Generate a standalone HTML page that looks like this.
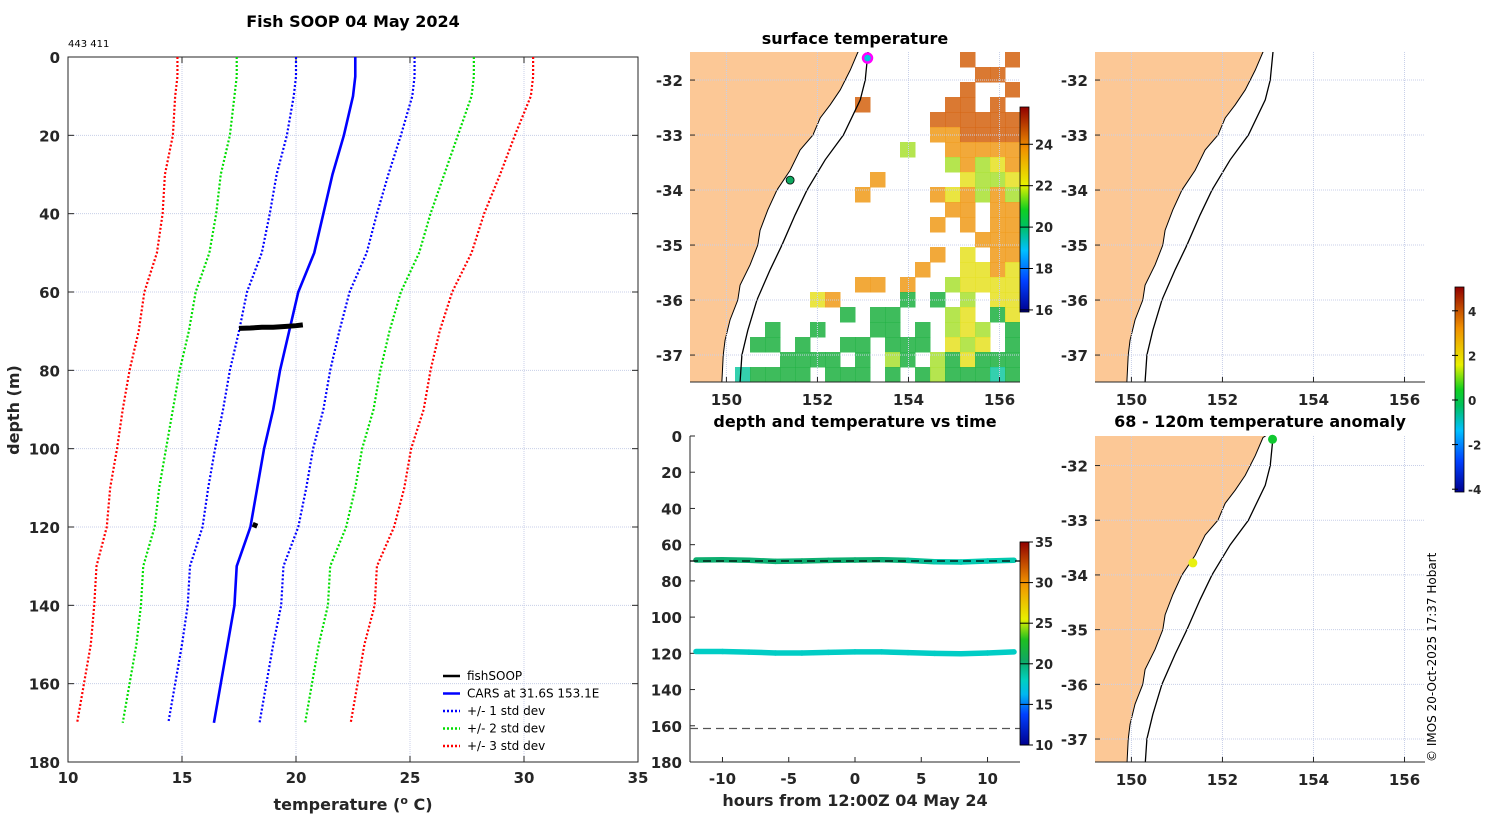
<!DOCTYPE html>
<html><head><meta charset="utf-8"><style>
html,body{margin:0;padding:0;background:#fff;}
svg{display:block;font-family:"DejaVu Sans","Liberation Sans",sans-serif;}
.tk{font-size:15px;font-weight:bold;fill:#262626;}
.ttl{font-size:16px;font-weight:bold;fill:#000;}
</style></head><body>
<svg id="fig" width="1500" height="820" viewBox="0 0 1500 820" xmlns="http://www.w3.org/2000/svg">
<defs>
<linearGradient id="jet" x1="0" y1="1" x2="0" y2="0">
<stop offset="0" stop-color="#00008f"/><stop offset="0.15" stop-color="#0040ff"/><stop offset="0.25" stop-color="#00b8f0"/><stop offset="0.32" stop-color="#00d0c0"/><stop offset="0.42" stop-color="#10a860"/><stop offset="0.52" stop-color="#20c020"/><stop offset="0.62" stop-color="#e8f000"/><stop offset="0.8" stop-color="#f09000"/><stop offset="1" stop-color="#900000"/>
</linearGradient>
<linearGradient id="jet2" x1="0" y1="1" x2="0" y2="0">
<stop offset="0" stop-color="#00008f"/><stop offset="0.15" stop-color="#0040ff"/><stop offset="0.3" stop-color="#00c0ff"/><stop offset="0.42" stop-color="#00c060"/><stop offset="0.5" stop-color="#10d020"/><stop offset="0.62" stop-color="#e8f000"/><stop offset="0.8" stop-color="#f09000"/><stop offset="1" stop-color="#900000"/>
</linearGradient>
<clipPath id="c1"><rect x="690" y="52" width="330" height="330"/></clipPath>
<clipPath id="c2"><rect x="1095" y="52" width="330" height="330"/></clipPath>
<clipPath id="c3"><rect x="1095" y="436" width="330" height="326"/></clipPath>
</defs>
<text class="ttl" x="353" y="27" text-anchor="middle">Fish SOOP 04 May 2024</text>
<text x="68" y="47" font-size="10" fill="#000">443 411</text>
<g id="left"></g>
<g id="sst"></g>
<g id="ts"></g>
<g id="m2"></g>
<g id="m3"></g>
<text x="1436" y="762" font-size="12" fill="#000" transform="rotate(-90 1436 762)">© IMOS 20-Oct-2025 17:37 Hobart</text>
</svg>
<script>
// ---------- profile data ----------
const depths=[0,5,10,20,30,40,50,60,70,80,90,100,110,120,130,140,150,160,170];
const carsMean=[22.6,22.6,22.5,22.1,21.6,21.2,20.8,20.1,19.7,19.3,19.0,18.6,18.3,18.0,17.4,17.3,17.0,16.7,16.4];
const carsSd=[2.6,2.6,2.6,2.5,2.45,2.35,2.3,2.25,2.2,2.2,2.2,2.15,2.15,2.1,2.05,2.05,2.0,2.0,2.0];
const fishTemp=[17.5,18.0,18.5,19.0,19.5,20.0,20.3,18.1,18.3];
const fishDepth=[69.3,69.2,69.0,69.0,68.8,68.6,68.4,119.3,119.8];
// time series
const tsHours=[-12,-10,-8,-6,-4,-2,0,2,4,6,8,10,12];
const tsDepthUpper=[68.5,68.3,68.6,69.2,69.0,68.7,68.5,68.3,68.7,69.4,69.6,69.0,68.6];
const tsTempUpper=[20.2,20.0,20.1,19.9,20.0,20.1,20.0,20.1,19.6,18.7,18.4,18.4,18.5];
const tsDepthLower=[119.0,119.0,119.3,119.8,119.8,119.5,119.2,119.2,119.6,120.0,120.2,119.8,119.2];
const tsTempLower=[17.8,17.8,17.8,17.8,17.8,17.8,17.8,17.8,17.8,17.8,17.8,17.8,17.8];
// maps
const coastLon=[153.05,152.89,152.72,152.50,152.28,152.06,151.90,151.62,151.40,151.11,150.91,150.74,150.69,150.52,150.30,150.25,150.08,149.97,149.93,149.90,149.88];
const coastLat=[-31.40,-31.49,-31.82,-32.18,-32.45,-32.69,-33.0,-33.27,-33.64,-34.0,-34.36,-34.73,-35.0,-35.36,-35.73,-36.0,-36.36,-36.73,-37.0,-37.49,-37.60];
const isoLon=[153.15,153.11,153.05,152.94,152.57,152.17,151.77,151.51,151.22,150.96,150.67,150.47,150.34,150.30,150.30];
const isoLat=[-31.40,-31.49,-32.0,-32.36,-33.0,-33.45,-34.0,-34.45,-35.0,-35.45,-36.0,-36.55,-37.0,-37.49,-37.60];
const sstGrid=[
"..................r..r",
"...................rr.",
"..................r..r",
"...........r.....rr.r.",
"................rrrrrr",
"................oorrrr",
"..............l..ooooo",
".................lolyo",
"............o.....ylly",
"...........o....oyolol",
".................oo.oo",
"................o.o.oo",
"...................ooo",
"................o.y.oo",
"...............o..yyoy",
"...........oo.o..lyyyy",
"........yo....g.g.l.yy",
"..........g.gg...ly.gy",
".....g..g...gg.g.lyl.g",
"....gg.g..gg.ggg.yly.g",
"......gggg.g.lg.lgyggg",
"...tgggg.ggg.g.glgggtg"];
const sstColors={r:"#d4620e",o:"#f09a18",y:"#e6e020",l:"#a8e030",g:"#1cb040",t:"#10c8a0"};
const sstTicks=[16,18,20,22,24];
const tsTicksX=[-10,-5,0,5,10];
const depthTicks=[0,20,40,60,80,100,120,140,160,180];
const tempTicks=[10,15,20,25,30,35];
const lonTicks=[150,152,154,156];
const latTicks=[-32,-33,-34,-35,-36,-37];
const tsCbTicks=[10,15,20,25,30,35];
const anomTicks=[-4,-2,0,2,4];
const anomLon=[153.1,151.35];
const anomLat=[-31.52,-33.78];
const anomColor=["#10c830","#e8f010"];
const sstMarkLon=[153.1,151.4];
const sstMarkLat=[-31.6,-33.82];

const NS="http://www.w3.org/2000/svg";
function el(tag,attrs,parent,txt){const e=document.createElementNS(NS,tag);for(const k in attrs)e.setAttribute(k,attrs[k]);if(txt!==undefined)e.textContent=txt;parent.appendChild(e);return e;}
const cmapStops=[[0,[0,0,143]],[0.15,[0,64,255]],[0.25,[0,184,240]],[0.32,[0,208,192]],[0.42,[16,168,96]],[0.52,[32,192,32]],[0.62,[232,240,0]],[0.8,[240,144,0]],[1,[144,0,0]]];
function cmap(t){t=Math.max(0,Math.min(1,t));for(let i=1;i<cmapStops.length;i++){const a=cmapStops[i-1],b=cmapStops[i];if(t<=b[0]){const f=(t-a[0])/(b[0]-a[0]);const c=a[1].map((v,k)=>Math.round(v+(b[1][k]-v)*f));return `rgb(${c[0]},${c[1]},${c[2]})`;}}return 'rgb(144,0,0)';}

// ---------- left profile ----------
(function(){
const g=document.getElementById('left');
const X0=68,X1=638,Y0=57,Y1=762;
const xs=t=>X0+(t-10)/25*(X1-X0), ys=d=>Y0+d/180*(Y1-Y0);
for(const t of tempTicks){const l=el('line',{x1:xs(t),x2:xs(t),y1:Y0,y2:Y1,stroke:'#c8cfe8','stroke-width':1,'stroke-dasharray':'1,1'},g);
 const tx=el('text',{x:xs(t),y:Y1+21,class:'tk','text-anchor':'middle'},g,t);
 el('line',{x1:xs(t),x2:xs(t),y1:Y0,y2:Y0+6,stroke:'#262626'},g);el('line',{x1:xs(t),x2:xs(t),y1:Y1,y2:Y1-6,stroke:'#262626'},g);}
for(const d of depthTicks){const l=el('line',{x1:X0,x2:X1,y1:ys(d),y2:ys(d),stroke:'#c8cfe8','stroke-width':1,'stroke-dasharray':'1,1'},g);
 const tx=el('text',{x:X0-8,y:ys(d)+6,class:'tk','text-anchor':'end'},g,d);
 el('line',{x1:X0,x2:X0+6,y1:ys(d),y2:ys(d),stroke:'#262626'},g);el('line',{x1:X1,x2:X1-6,y1:ys(d),y2:ys(d),stroke:'#262626'},g);}
const box=el('rect',{x:X0,y:Y0,width:X1-X0,height:Y1-Y0,fill:'none',stroke:'#262626','stroke-width':1},g);
const specs=[[-3,'#f00','sd3-left'],[-2,'#0d0','sd2-left'],[-1,'#00f','sd1-left'],[1,'#00f','sd1-right'],[2,'#0d0','sd2-right'],[3,'#f00','sd3-right']];
for(const [k,c,n] of specs){const p=el('polyline',{points:depths.map((d,i)=>xs(carsMean[i]+k*carsSd[i])+','+ys(d)).join(' '),fill:'none',stroke:c,'stroke-width':2.2,'stroke-dasharray':'2,2'},g);}
const m=el('polyline',{points:depths.map((d,i)=>xs(carsMean[i])+','+ys(d)).join(' '),fill:'none',stroke:'#00f','stroke-width':2.6},g);
const f1=el('polyline',{points:fishTemp.slice(0,7).map((t,i)=>xs(t)+','+ys(fishDepth[i])).join(' '),fill:'none',stroke:'#000','stroke-width':5},g);
const f2=el('polyline',{points:fishTemp.slice(7).map((t,i)=>xs(t)+','+ys(fishDepth[i+7])).join(' '),fill:'none',stroke:'#000','stroke-width':5},g);
const xt=el('text',{x:353,y:810,'font-size':16,'font-weight':'bold',fill:'#262626','text-anchor':'middle'},g);
xt.innerHTML='temperature (<tspan font-size="11" dy="-6">o</tspan><tspan dy="6"> C)</tspan>';
const yt=el('text',{x:19,y:410,'font-size':16,'font-weight':'bold',fill:'#262626','text-anchor':'middle',transform:'rotate(-90 19 410)'},g,'depth (m)');
const leg=[['fishSOOP','#000',''],['CARS at 31.6S 153.1E','#00f',''],['+/- 1 std dev','#00f','2,2'],['+/- 2 std dev','#0d0','2,2'],['+/- 3 std dev','#f00','2,2']];
leg.forEach((L,i)=>{const y=676+i*17.5;const ln=el('line',{x1:443,x2:460,y1:y,y2:y,stroke:L[1],'stroke-width':2.4,'stroke-dasharray':L[2]||'none'},g);
 const t=el('text',{x:467,y:y+4,'font-size':12,fill:'#000'},g,L[0]);});
})();

// ---------- map helper ----------
function drawMap(gid,clip,X0,Y0,W,H,latTop,latBot,name){
 const g=document.getElementById(gid);
 const lon0=149.2,lon1=156.45;
 const px=lo=>X0+(lo-lon0)/(lon1-lon0)*W, py=la=>Y0+(latTop-la)/(latTop-latBot)*H;
 const cg=el('g',{'clip-path':'url(#'+clip+')'},g);
 return {g,cg,px,py,finish:function(){
  let pts=coastLon.map((lo,i)=>px(lo)+','+py(coastLat[i])).join(' ');
  pts+=' '+px(149.0)+','+py(-37.7)+' '+px(149.0)+','+py(-31.3);
  const land=el('polygon',{points:pts,fill:'#fcc896',stroke:'#000','stroke-width':1},cg);
  const iso=el('polyline',{points:isoLon.map((lo,i)=>px(lo)+','+py(isoLat[i])).join(' '),fill:'none',stroke:'#000','stroke-width':1.3},cg);
  for(const lo of lonTicks){const l=el('line',{x1:px(lo),x2:px(lo),y1:Y0,y2:Y0+H,stroke:'#c8cfe8','stroke-dasharray':'1,1'},cg);
   el('line',{x1:px(lo),x2:px(lo),y1:Y0+H,y2:Y0+H-5,stroke:'#262626'},g);
   const t=el('text',{x:px(lo),y:Y0+H+23,class:'tk','text-anchor':'middle'},g,lo);}
  for(const la of latTicks){const y=py(la);if(y<Y0||y>Y0+H)continue;const l=el('line',{x1:X0,x2:X0+W,y1:y,y2:y,stroke:'#c8cfe8','stroke-dasharray':'1,1'},cg);
   el('line',{x1:X0,x2:X0+5,y1:y,y2:y,stroke:'#262626'},g);
   const t=el('text',{x:X0-7,y:y+6,class:'tk','text-anchor':'end'},g,la);}
  el('line',{x1:X0,x2:X0+W,y1:Y0+H,y2:Y0+H,stroke:'#262626'},g);
 }};
}

// SST map
(function(){
 const m=drawMap('sst','c1',690,52,330,330,-31.49,-37.49,'sst-map');
 const cw=330/22,ch=330/22;
 sstGrid.forEach((row,r)=>{[...row].forEach((c,k)=>{if(c==='.')return;const rc=el('rect',{x:690+k*cw,y:52+r*ch,width:cw+0.5,height:ch+0.5,fill:sstColors[c],'fill-opacity':0.85},m.cg);});});
 m.finish();
 const mk1=el('circle',{cx:m.px(sstMarkLon[0]),cy:m.py(sstMarkLat[0]),r:4.5,fill:'#00c8e0',stroke:'#ff00ff','stroke-width':2.5},m.g);
 const mk2=el('circle',{cx:m.px(sstMarkLon[1]),cy:m.py(sstMarkLat[1]),r:4,fill:'#10a860',stroke:'#000','stroke-width':0.8},m.g);
 const t=el('text',{x:855,y:44,class:'ttl','text-anchor':'middle'},m.g,'surface temperature');
 const cb=el('rect',{x:1020,y:107,width:9,height:205,fill:'url(#jet2)',stroke:'#000','stroke-width':0.8},m.g);
 const cy=v=>312-(v-15.9)/(25.8-15.9)*205;
 for(const v of sstTicks){el('line',{x1:1020,x2:1033,y1:cy(v),y2:cy(v),stroke:'#000'},m.g);const tx=el('text',{x:1035,y:cy(v)+5,'font-size':13,'font-weight':'bold',fill:'#262626'},m.g,v);}
})();

// right top map
(function(){const m=drawMap('m2','c2',1095,52,330,330,-31.49,-37.49,'overview-map');m.finish();})();
// anomaly map
(function(){
 const m=drawMap('m3','c3',1095,436,330,326,-31.46,-37.42,'anomaly-map');m.finish();
 anomLon.forEach((lo,i)=>{const c=el('circle',{cx:m.px(lo),cy:m.py(anomLat[i]),r:4.5,fill:anomColor[i]},m.g);});
 const t=el('text',{x:1260,y:427,class:'ttl','text-anchor':'middle'},m.g,'68 - 120m temperature anomaly');
 const cb=el('rect',{x:1455,y:287,width:9,height:205,fill:'url(#jet2)',stroke:'#000','stroke-width':0.8},m.g);
 const cy=v=>400-v*22.3;
 for(const v of anomTicks){el('line',{x1:1452,x2:1458,y1:cy(v),y2:cy(v),stroke:'#000'},m.g);const tx=el('text',{x:1468,y:cy(v)+5,'font-size':12,'font-weight':'bold',fill:'#262626'},m.g,v);}
})();

// time series
(function(){
 const g=document.getElementById('ts');
 const X0=690,X1=1020,Y0=436,Y1=762;
 const xs=h=>X0+(h+12.45)/24.9*(X1-X0), ys=d=>Y0+d/180*(Y1-Y0);
 const t=el('text',{x:855,y:427,class:'ttl','text-anchor':'middle'},g,'depth and temperature vs time');
 el('line',{x1:X0,x2:X0,y1:Y0,y2:Y1,stroke:'#262626'},g);el('line',{x1:X0,x2:X1,y1:Y1,y2:Y1,stroke:'#262626'},g);
 for(const d of depthTicks){el('line',{x1:X0,x2:X0+5,y1:ys(d),y2:ys(d),stroke:'#262626'},g);const tx=el('text',{x:X0-8,y:ys(d)+6,class:'tk','text-anchor':'end'},g,d);}
 for(const h of tsTicksX){el('line',{x1:xs(h),x2:xs(h),y1:Y1,y2:Y1-5,stroke:'#262626'},g);const tx=el('text',{x:xs(h),y:Y1+22,class:'tk','text-anchor':'middle'},g,h);}
 const xt=el('text',{x:855,y:806,'font-size':16,'font-weight':'bold',fill:'#262626','text-anchor':'middle'},g,'hours from 12:00Z 04 May 24');
 const col=v=>cmap((v-10)/25);
 function band(dep,tem,n){for(let i=0;i<tsHours.length-1;i++){const s=el('line',{x1:xs(tsHours[i]),y1:ys(dep[i]),x2:xs(tsHours[i+1]),y2:ys(dep[i+1]),stroke:col((tem[i]+tem[i+1])/2),'stroke-width':5.5,'stroke-linecap':'round'},g);}}
 band(tsDepthUpper,tsTempUpper,'upper-sensor-track');band(tsDepthLower,tsTempLower,'lower-sensor-track');
 const d1=el('line',{x1:X0,x2:X1,y1:ys(69),y2:ys(69),stroke:'#000','stroke-width':1.2,'stroke-dasharray':'8,5'},g);
 const d2=el('line',{x1:X0,x2:X1,y1:ys(161.5),y2:ys(161.5),stroke:'#555','stroke-width':1.2,'stroke-dasharray':'8,5'},g);
 const cb=el('rect',{x:1020,y:542,width:9,height:203,fill:'url(#jet)',stroke:'#000','stroke-width':0.8},g);
 const cy=v=>745-(v-10)/25*203;
 for(const v of tsCbTicks){el('line',{x1:1020,x2:1033,y1:cy(v),y2:cy(v),stroke:'#000'},g);const tx=el('text',{x:1035,y:cy(v)+5,'font-size':13,'font-weight':'bold',fill:'#262626'},g,v);}
})();
</script>
</body></html>
